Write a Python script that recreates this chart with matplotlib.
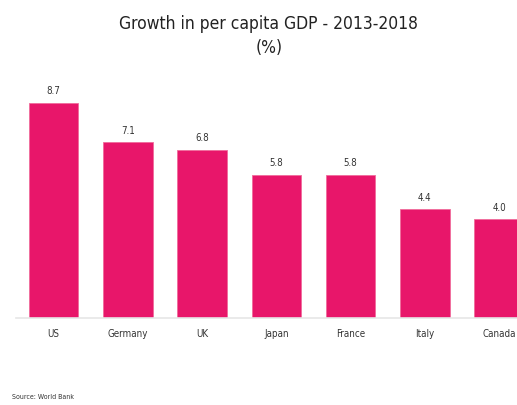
import matplotlib.pyplot as plt

countries = ['US', 'Germany', 'UK', 'Japan', 'France', 'Italy', 'Canada']
growth = [8.7, 7.1, 6.8, 5.8, 5.8, 4.4, 4.0]

plt.rcParams['font.family'] = ['DejaVu Sans']
plt.rcParams['font.stretch'] = 'condensed'

fig = plt.figure(figsize=(5.17, 4.06), dpi=100)
ax = fig.add_axes([16 / 517, 87 / 406, 1 - 16 / 517, 235 / 406])

x = range(len(countries))
bars = ax.bar(x, growth, width=0.667, color='#E8166A', edgecolor='#F06C9B', linewidth=0.6)
for xi, v in zip(x, growth):
    ax.text(xi, v + 0.3, f'{v:.1f}', ha='center', va='bottom', fontsize=7, color='#333333')

ax.set_xlim(-0.505, 6.24)
ax.set_ylim(0, 9.5)
ax.set_xticks(list(x))
ax.set_xticklabels(countries, fontsize=7, color='#333333')
ax.tick_params(axis='x', length=0, pad=7)
ax.set_yticks([])
for side in ['top', 'right', 'left']:
    ax.spines[side].set_visible(False)
ax.spines['bottom'].set_color('#E6E6E6')
ax.spines['bottom'].set_linewidth(1.2)

fig.text(0.52, 0.963, 'Growth in per capita GDP - 2013-2018\n(%)', ha='center', va='top',
         fontsize=12.5, color='#222222', linespacing=1.45)
fig.text(12 / 517, 1 - 400 / 406, 'Source: World Bank', ha='left', va='bottom',
         fontsize=5, color='#333333')

fig.savefig('out.png', dpi=100)
